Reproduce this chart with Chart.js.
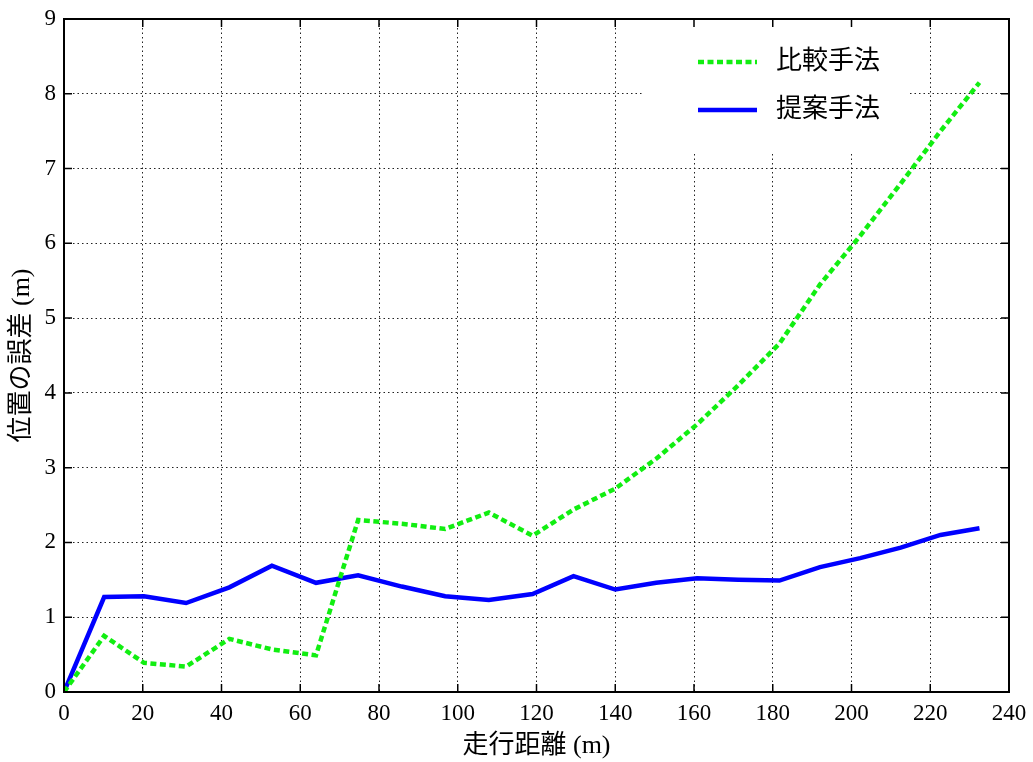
<!DOCTYPE html>
<html>
<head>
<meta charset="utf-8">
<script src="https://cdn.jsdelivr.net/npm/chart.js@4/dist/chart.umd.min.js"></script>
<style>
  html, body { margin: 0; padding: 0; background: #fff; }
  #wrap { width: 1033px; height: 762px; }
</style>
</head>
<body>
<div id="wrap"><canvas id="c" width="1033" height="762"></canvas></div>
<script>
// Travelled distance (m) at each sample
const distance = [0, 10.2, 20.3, 31.0, 42.0, 52.8, 64.0, 74.7, 85.8, 96.8, 107.9, 119.0,
                  129.4, 140.0, 150.4, 160.8, 171.2, 181.7, 192.0, 202.2, 212.5, 222.6, 232.5];
// Position error (m) of the comparison method
const baselineError = [0, 0.75, 0.39, 0.34, 0.71, 0.57, 0.49, 2.30, 2.25, 2.18, 2.40, 2.09,
                       2.44, 2.72, 3.12, 3.58, 4.10, 4.66, 5.45, 6.10, 6.80, 7.50, 8.15];
// Position error (m) of the proposed method
const proposedError = [0, 1.27, 1.28, 1.19, 1.40, 1.69, 1.46, 1.56, 1.41, 1.28, 1.23, 1.31,
                       1.55, 1.37, 1.46, 1.52, 1.50, 1.49, 1.67, 1.79, 1.93, 2.10, 2.19];

const seriesNames = ['比較手法', '提案手法'];
const xTitle = '走行距離 (m)';
const yTitle = '位置の誤差 (m)';

const serif = "'Liberation Serif', 'Noto Sans CJK JP', serif";
const GREEN = '#11ee11';
const BLUE = '#0000ff';

const toPoints = (xs, ys) => xs.map((x, i) => ({ x: x, y: ys[i] }));

// Frame around the plot with inward ticks on all four sides
const framePlugin = {
  id: 'frame',
  afterDraw(chart) {
    const { ctx, chartArea: a, scales } = chart;
    const len = 8;
    ctx.save();
    ctx.strokeStyle = '#000';
    ctx.lineWidth = 1.5;
    ctx.beginPath();
    scales.x.ticks.forEach(t => {
      const px = scales.x.getPixelForValue(t.value);
      ctx.moveTo(px, a.bottom); ctx.lineTo(px, a.bottom - len);
      ctx.moveTo(px, a.top); ctx.lineTo(px, a.top + len);
    });
    scales.y.ticks.forEach(t => {
      const py = scales.y.getPixelForValue(t.value);
      ctx.moveTo(a.left, py); ctx.lineTo(a.left + len, py);
      ctx.moveTo(a.right, py); ctx.lineTo(a.right - len, py);
    });
    ctx.stroke();
    ctx.lineWidth = 2;
    ctx.strokeRect(a.left, a.top, a.right - a.left, a.bottom - a.top);
    ctx.restore();
  }
};

// Legend box inside the plot, drawn over the grid
const legendPlugin = {
  id: 'insideLegend',
  beforeDatasetsDraw(chart) {
    const { ctx, chartArea: a } = chart;
    const box = { x: 643, y: a.top + 1, w: 267, h: 150 - a.top };
    ctx.save();
    ctx.fillStyle = '#fff';
    ctx.fillRect(box.x, box.y, box.w, box.h);
    const rows = [62, 110];
    chart.data.datasets.forEach((ds, i) => {
      const y = rows[i];
      ctx.beginPath();
      ctx.strokeStyle = ds.borderColor;
      ctx.lineWidth = ds.borderWidth;
      ctx.setLineDash(ds.borderDash || []);
      ctx.moveTo(698, y); ctx.lineTo(757, y);
      ctx.stroke();
      ctx.setLineDash([]);
      ctx.fillStyle = '#000';
      ctx.font = "26px " + serif;
      ctx.textBaseline = 'middle';
      ctx.textAlign = 'left';
      ctx.fillText(ds.label, 776, y);
    });
    ctx.restore();
  }
};

new Chart(document.getElementById('c'), {
  type: 'line',
  data: {
    datasets: [
      {
        label: seriesNames[0],
        data: toPoints(distance, baselineError),
        borderColor: GREEN,
        borderWidth: 4.5,
        borderDash: [6, 3.5],
        pointRadius: 0,
        fill: false,
        tension: 0
      },
      {
        label: seriesNames[1],
        data: toPoints(distance, proposedError),
        borderColor: BLUE,
        borderWidth: 4.5,
        pointRadius: 0,
        fill: false,
        tension: 0
      }
    ]
  },
  options: {
    responsive: false,
    animation: false,
    devicePixelRatio: 1,
    layout: { padding: { top: 19, right: 24, left: 0, bottom: 0 } },
    plugins: {
      legend: { display: false },
      tooltip: { enabled: false }
    },
    scales: {
      x: {
        type: 'linear',
        min: 0, max: 240,
        ticks: { stepSize: 20, color: '#000', padding: 8, font: { family: serif, size: 23 } },
        grid: { color: '#222', lineWidth: 1, drawTicks: false },
        border: { display: false, dash: [1.5, 3] },
        title: { display: true, text: xTitle, color: '#000', padding: { top: 0, bottom: 0 },
                 font: { family: serif, size: 26 } },
        afterFit(s) { s.height = 70; s.paddingLeft = 0; s.paddingRight = 0; }
      },
      y: {
        min: 0, max: 9,
        ticks: { stepSize: 1, color: '#000', padding: 8, font: { family: serif, size: 23 } },
        grid: { color: '#222', lineWidth: 1, drawTicks: false },
        border: { display: false, dash: [1.5, 3] },
        title: { display: true, text: yTitle, color: '#000', padding: { top: 7, bottom: 0 },
                 font: { family: serif, size: 26 } },
        afterFit(s) { s.width = 64; s.paddingTop = 0; s.paddingBottom = 0; }
      }
    }
  },
  plugins: [legendPlugin, framePlugin]
});
</script>
</body>
</html>
